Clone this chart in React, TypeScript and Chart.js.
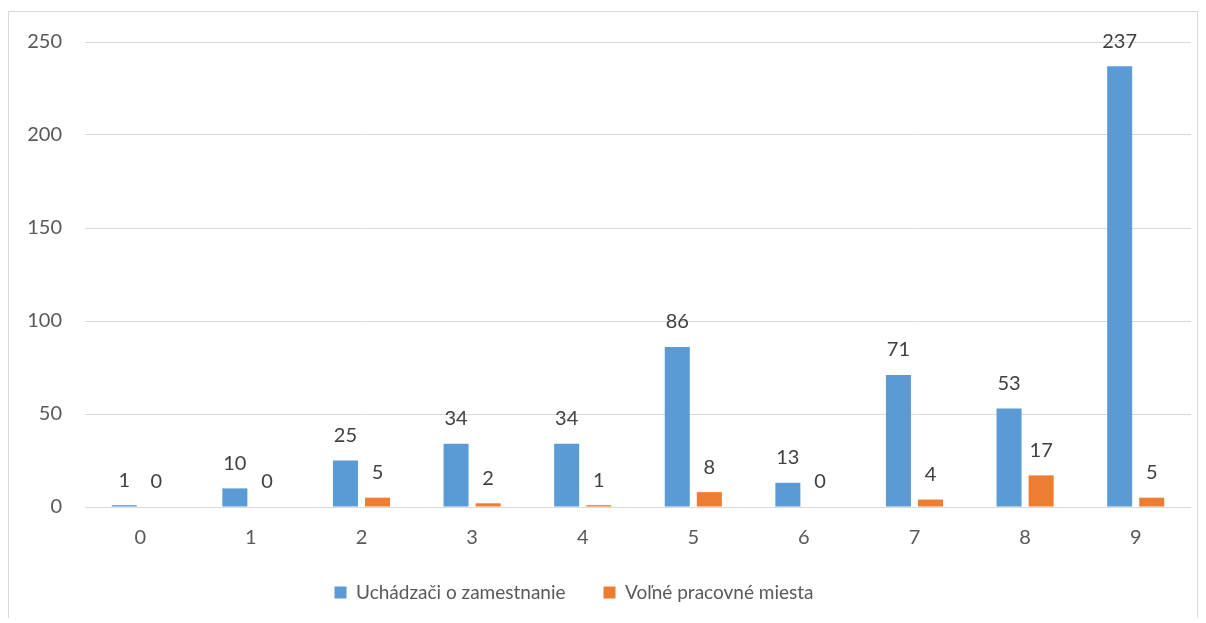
import React, { useEffect, useRef } from "react";
import { Chart, registerables } from "chart.js";

Chart.register(...registerables);

const categories = ["0", "1", "2", "3", "4", "5", "6", "7", "8", "9"];
const applicants = [1, 10, 25, 34, 34, 86, 13, 71, 53, 237];
const vacancies = [0, 0, 5, 2, 1, 8, 0, 4, 17, 5];
const seriesNames = ["Uchádzači o zamestnanie", "Voľné pracovné miesta"];

const FONT = "Lato, 'Open Sans', sans-serif";

const dataLabelPlugin = {
  id: "dataLabels",
  afterLayout(chart: any) {
    // the legend in the source sits a little left of centre
    if (chart.legend) {
      chart.legend.left -= 26;
      chart.legend.right -= 26;
    }
  },
  afterDatasetsDraw(chart: any) {
    const ctx = chart.ctx;
    ctx.save();
    ctx.font = `20px ${FONT}`;
    ctx.fillStyle = "#404040";
    ctx.textAlign = "center";
    ctx.textBaseline = "middle";
    chart.data.datasets.forEach((ds: any, i: number) => {
      const meta = chart.getDatasetMeta(i);
      meta.data.forEach((el: any, j: number) => {
        ctx.fillText(String(ds.data[j]), el.x, el.y - 25);
      });
    });
    ctx.restore();
  },
};

export default function App() {
  const ref = useRef<HTMLCanvasElement>(null);
  useEffect(() => {
    if (!ref.current) return;
    const chart = new Chart(ref.current, {
      type: "bar",
      data: {
        labels: categories,
        datasets: [
          {
            label: seriesNames[0],
            data: applicants,
            backgroundColor: "#5B9BD5",
            categoryPercentage: 0.58,
            barPercentage: 0.78,
          },
          {
            label: seriesNames[1],
            data: vacancies,
            backgroundColor: "#ED7D31",
            categoryPercentage: 0.58,
            barPercentage: 0.78,
          },
        ],
      },
      options: {
        animation: false,
        responsive: false,
        maintainAspectRatio: false,
        layout: { padding: { top: 30, right: 6, left: 0, bottom: 8 } },
        plugins: {
          tooltip: { enabled: false },
          legend: {
            position: "bottom",
            labels: {
              font: { family: FONT, size: 19 },
              color: "#595959",
              boxWidth: 12,
              boxHeight: 12,
              padding: 38,
            },
          },
        },
        scales: {
          x: {
            grid: { display: false },
            border: { display: false },
            ticks: { font: { family: FONT, size: 20 }, color: "#595959", padding: 11 },
            afterFit: (scale: any) => {
              scale.height = 38;
            },
          },
          y: {
            min: 0,
            max: 250,
            ticks: {
              stepSize: 50,
              font: { family: FONT, size: 20, lineHeight: 0.7 },
              color: "#595959",
              padding: 23,
            },
            grid: { color: "#d9d9d9", lineWidth: 1, drawTicks: false },
            border: { display: false },
            afterFit: (scale: any) => {
              scale.width = 76;
            },
          },
        },
      },
      plugins: [dataLabelPlugin],
    });
    return () => chart.destroy();
  }, []);
  return (
    <div style={{ position: "relative", top: 3, width: 1190, height: 610, border: "1px solid #d9d9d9", boxSizing: "border-box" }}>
      <canvas ref={ref} width={1188} height={608} style={{ display: "block" }} />
    </div>
  );
}
